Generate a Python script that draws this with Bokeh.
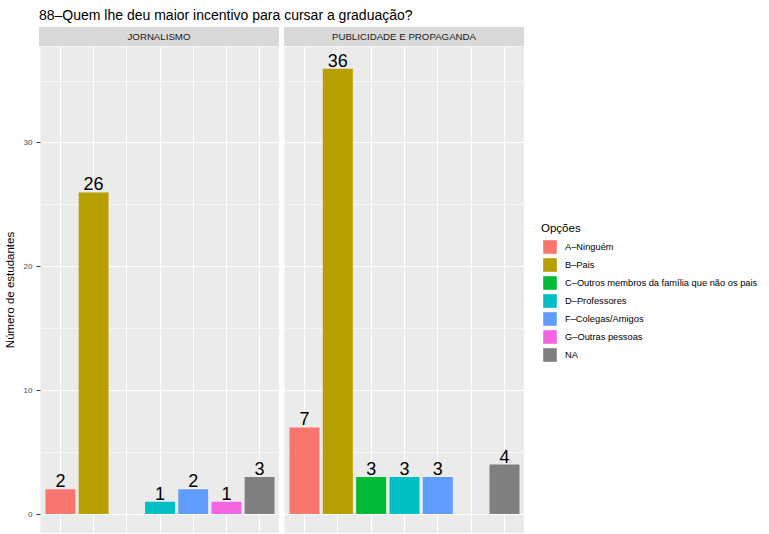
import numpy as np
from bokeh.plotting import figure
from bokeh.models import (ColumnDataSource, FactorRange, Range1d, Legend, LegendItem,
                          SingleIntervalTicker, Div)
from bokeh.layouts import column, row
from bokeh.embed import file_html
from bokeh.resources import INLINE
from bokeh.core.properties import value

# ---- data ----
title_text = "88–Quem lhe deu maior incentivo para cursar a graduação?"
y_label = "Número de estudantes"
legend_title = "Opções"
panels = ["JORNALISMO", "PUBLICIDADE E PROPAGANDA"]
options = ["A–Ninguém", "B–Pais", "C–Outros membros da família que não os pais",
           "D–Professores", "F–Colegas/Amigos", "G–Outras pessoas", "NA"]
jornalismo = [2, 26, None, 1, 2, 1, 3]
publicidade = [7, 36, 3, 3, 3, None, 4]
colors = ["#F8766D", "#B79F00", "#00BA38", "#00BFC4", "#619CFF", "#F564E3", "#7F7F7F"]

FONT = "Liberation Sans"
FRAME_W = 240
FRAME_H = 487
LEFT1 = 39
GAP = 5
LEG_W = 245
ymax = max(v for v in jornalismo + publicidade if v is not None)
y_end = ymax * 1.05
y_start = -1.57


def bar_sources(vals):
    return [ColumnDataSource(dict(x=[o], top=[np.nan if v is None else v]))
            for o, v in zip(options, vals)]


def make_panel(vals, show_axis, left_border):
    p = figure(x_range=FactorRange(factors=options, range_padding=0.1,
                                   range_padding_units="absolute"),
               y_range=Range1d(y_start, y_end),
               width=left_border + FRAME_W, height=FRAME_H,
               output_backend="svg", toolbar_location=None,
               min_border_left=left_border, min_border_right=0,
               min_border_top=0, min_border_bottom=0)
    p.background_fill_color = "#EBEBEB"
    p.border_fill_color = "white"
    p.outline_line_color = None
    p.xaxis.visible = False
    p.xgrid.grid_line_color = "white"
    p.xgrid.grid_line_width = 1.1
    t = SingleIntervalTicker(interval=10, num_minor_ticks=2)
    p.yaxis.ticker = t
    p.ygrid.ticker = t
    p.ygrid.grid_line_color = "white"
    p.ygrid.grid_line_width = 1.1
    p.ygrid.minor_grid_line_color = "white"
    p.ygrid.minor_grid_line_width = 0.55
    if show_axis:
        ax = p.yaxis[0]
        ax.axis_label = y_label
        ax.axis_label_text_font = FONT
        ax.axis_label_text_font_size = "11.5px"
        ax.axis_label_text_font_style = "normal"
        ax.axis_label_text_color = "black"
        ax.axis_label_standoff = 5
        ax.major_label_text_font = FONT
        ax.major_label_text_font_size = "8px"
        ax.major_label_text_color = "#4D4D4D"
        ax.major_label_standoff = 4
        ax.axis_line_color = None
        ax.major_tick_line_color = "#333333"
        ax.major_tick_out = 4
        ax.major_tick_in = 0
        ax.minor_tick_line_color = None
    else:
        p.yaxis.visible = False

    srcs = bar_sources(vals)
    for src, c in zip(srcs, colors):
        p.vbar(x="x", top="top", width=0.9, source=src,
               fill_color=c, line_color=None)

    lab = ColumnDataSource(dict(
        x=[o for o, v in zip(options, vals) if v is not None],
        y=[v for v in vals if v is not None],
        t=[str(v) for v in vals if v is not None]))
    p.text(x="x", y="y", text="t", source=lab, text_font=value(FONT),
           text_font_size="18px", text_align="center",
           text_baseline="bottom", y_offset=-2, text_color="black")
    return p, srcs


p1, _ = make_panel(jornalismo, True, LEFT1)
p2, srcs2 = make_panel(publicidade, False, GAP)

# legend figure: keys only (bars hidden), sharing the same data sources
p3 = figure(x_range=FactorRange(factors=options), y_range=Range1d(0, 1),
            width=LEG_W, height=FRAME_H, output_backend="svg",
            toolbar_location=None, min_border_left=0, min_border_right=0,
            min_border_top=0, min_border_bottom=0, margin=(19, 0, 0, 0))
p3.axis.visible = False
p3.grid.visible = False
p3.outline_line_color = None
p3.background_fill_color = "white"
p3.border_fill_color = "white"
leg_rends = []
for src, c in zip(srcs2, colors):
    r = p3.vbar(x="x", top="top", width=0.9, source=src, fill_color=c,
                line_color=None, visible=False)
    leg_rends.append(r)

legend = Legend(items=[LegendItem(label=o, renderers=[r]) for o, r in zip(options, leg_rends)],
                title=legend_title, title_text_font=FONT, title_text_font_size="11.5px",
                title_text_font_style="normal", title_text_color="black",
                title_standoff=4,
                label_text_font=FONT, label_text_font_size="9.3px",
                label_text_color="black",
                glyph_width=17, glyph_height=17, label_height=17,
                label_standoff=7, spacing=1, padding=0, margin=0,
                border_line_color=None, background_fill_alpha=0,
                location=(17, 170))
p3.add_layout(legend)

strip_style = {"background-color": "#D9D9D9", "font-family": FONT,
               "font-size": "9.7px", "color": "#1A1A1A", "text-align": "center",
               "line-height": "19px"}
title_div = Div(text=title_text, width=720, height=27, margin=(0, 0, 0, LEFT1),
                styles={"font-family": FONT, "font-size": "14px", "color": "black",
                        "line-height": "30px"})
strip1 = Div(text=panels[0], width=FRAME_W, height=19, margin=(0, 0, 0, LEFT1),
             styles=strip_style)
strip2 = Div(text=panels[1], width=FRAME_W, height=19, margin=(0, 0, 0, GAP),
             styles=strip_style)

layout = column(title_div, row(column(strip1, p1), column(strip2, p2), p3))

open("out.html", "w").write(file_html(layout, INLINE))
